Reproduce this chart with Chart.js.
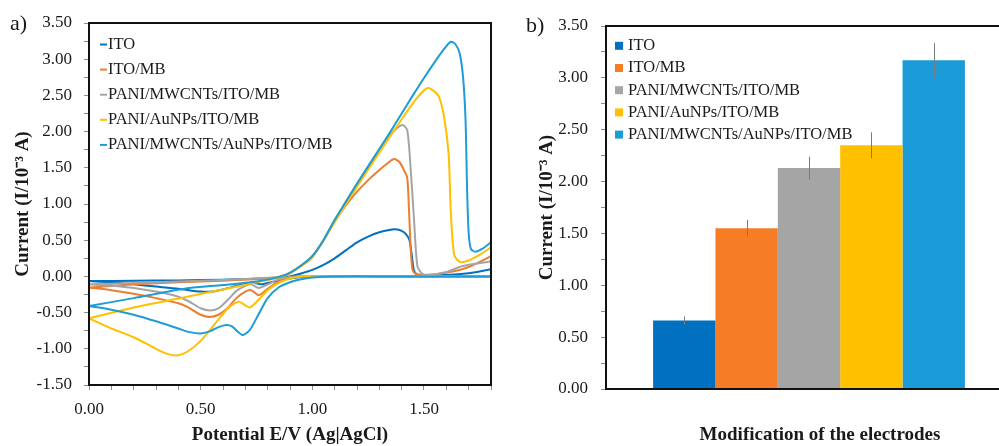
<!DOCTYPE html>
<html>
<head>
<meta charset="utf-8">
<title>CV curves and peak currents</title>
<script src="https://cdn.jsdelivr.net/npm/chart.js@4.4.1/dist/chart.umd.min.js"></script>
<style>
  html, body { margin: 0; padding: 0; background: #fff; overflow: hidden; }
  #page { position: relative; width: 999px; height: 446px; overflow: hidden; }
  #panelA { position: absolute; left: 0; top: 0; }
  #panelB { position: absolute; left: 500px; top: 0; }
  .tag { position: absolute; font: 22px "Liberation Serif", serif; line-height: 22px; color: #1a1a1a; }
</style>
</head>
<body>
<div id="page">
  <canvas id="panelA" width="500" height="446"></canvas>
  <canvas id="panelB" width="520" height="446"></canvas>
  <div class="tag" style="left:10px;top:12px">a)</div>
  <div class="tag" style="left:526px;top:14px">b)</div>
</div>
<script>
// ---------------------------------------------------------------------------
// Data
// ---------------------------------------------------------------------------

const electrodes = ["ITO", "ITO/MB", "PANI/MWCNTs/ITO/MB", "PANI/AuNPs/ITO/MB", "PANI/MWCNTs/AuNPs/ITO/MB"];
const lineColors = ["#0070C0", "#ED7D31", "#A5A5A5", "#FFC000", "#1E9CD7"];
const barColors  = ["#0070C0", "#F67D26", "#A5A5A5", "#FFC000", "#1B9CD8"];

// panel a: voltammograms, forward scan then reverse scan (E in V, I in 10^-3 A)
const itoE = [0, 0.2, 0.4, 0.6, 0.8, 0.9, 0.95, 1.0, 1.05, 1.1, 1.15, 1.2, 1.25, 1.3, 1.35, 1.37, 1.4, 1.42, 1.435, 1.445, 1.455, 1.47, 1.5, 1.6, 1.7, 1.8, 1.9,
              1.9, 1.85, 1.6, 1.3, 1.0, 0.95, 0.9, 0.85, 0.8, 0.77, 0.74, 0.7, 0.65, 0.6, 0.55, 0.5, 0.4, 0.3, 0.2, 0.1, 0];
const itoI = [-0.065, -0.06, -0.055, -0.045, -0.025, 0.0, 0.04, 0.09, 0.16, 0.25, 0.36, 0.47, 0.55, 0.61, 0.645, 0.65, 0.63, 0.58, 0.5, 0.3, 0.08, 0.025, 0.02, 0.02, 0.045, 0.10, 0.18,
              0, 0, 0, 0, 0, -0.01, -0.03, -0.06, -0.09, -0.11, -0.09, -0.1, -0.14, -0.18, -0.21, -0.21, -0.17, -0.14, -0.11, -0.08, -0.065];

const itoMbE = [0, 0.2, 0.4, 0.6, 0.8, 0.85, 0.9, 0.95, 1.0, 1.05, 1.1, 1.15, 1.2, 1.25, 1.3, 1.34, 1.366, 1.39, 1.41, 1.425, 1.433, 1.441, 1.448, 1.46, 1.5, 1.6, 1.7, 1.8, 1.9,
                1.9, 1.85, 1.6, 1.3, 1.0, 0.95, 0.9, 0.85, 0.8, 0.76, 0.726, 0.7, 0.66, 0.62, 0.58, 0.54, 0.5, 0.44, 0.4, 0.3, 0.2, 0.1, 0];
const itoMbI = [-0.155, -0.11, -0.08, -0.06, -0.03, -0.01, 0.05, 0.15, 0.28, 0.5, 0.76, 0.98, 1.17, 1.33, 1.47, 1.57, 1.62, 1.58, 1.47, 1.36, 0.9, 0.35, 0.1, 0.04, 0.02, 0.05, 0.13, 0.28, 0.45,
                0, 0, 0, 0, 0, 0, -0.01, -0.07, -0.17, -0.26, -0.19, -0.21, -0.3, -0.44, -0.53, -0.56, -0.53, -0.42, -0.37, -0.3, -0.24, -0.19, -0.155];

const mwcntE = [0, 0.2, 0.4, 0.6, 0.8, 0.85, 0.9, 0.95, 1.0, 1.05, 1.1, 1.15, 1.2, 1.25, 1.3, 1.35, 1.38, 1.405, 1.425, 1.44, 1.455, 1.47, 1.49, 1.52, 1.6, 1.67, 1.8, 1.9,
                1.9, 1.85, 1.6, 1.3, 1.0, 0.95, 0.9, 0.85, 0.8, 0.76, 0.726, 0.7, 0.66, 0.62, 0.58, 0.54, 0.5, 0.45, 0.4, 0.3, 0.2, 0.1, 0];
const mwcntI = [-0.11, -0.09, -0.07, -0.05, -0.02, -0.005, 0.05, 0.15, 0.28, 0.5, 0.78, 1.03, 1.28, 1.52, 1.75, 1.96, 2.05, 2.09, 2.02, 1.5, 0.8, 0.15, 0.04, 0.02, 0.06, 0.14, 0.21, 0.3,
                0, 0, 0, 0, 0, 0, -0.01, -0.04, -0.11, -0.16, -0.11, -0.13, -0.2, -0.33, -0.44, -0.47, -0.44, -0.35, -0.28, -0.21, -0.16, -0.13, -0.11];

const aunpE = [0, 0.2, 0.44, 0.6, 0.8, 0.85, 0.9, 0.95, 1.0, 1.1, 1.2, 1.3, 1.4, 1.45, 1.49, 1.515, 1.54, 1.567, 1.59, 1.61, 1.62, 1.635, 1.66, 1.7, 1.75, 1.8, 1.9,
               1.9, 1.85, 1.6, 1.3, 1.0, 0.95, 0.9, 0.85, 0.8, 0.76, 0.72, 0.69, 0.67, 0.63, 0.6, 0.55, 0.5, 0.45, 0.4, 0.35, 0.3, 0.2, 0.1, 0.05, 0];
const aunpI = [-0.58, -0.43, -0.28, -0.18, -0.05, -0.015, 0.04, 0.14, 0.26, 0.75, 1.24, 1.71, 2.17, 2.39, 2.54, 2.6, 2.57, 2.48, 2.2, 1.7, 0.9, 0.3, 0.2, 0.22, 0.3, 0.4, 0.6,
               0, 0, 0, 0, 0, 0, -0.03, -0.09, -0.19, -0.32, -0.43, -0.38, -0.35, -0.42, -0.52, -0.71, -0.89, -1.02, -1.09, -1.07, -1.0, -0.84, -0.72, -0.65, -0.58];

const hybridE = [0, 0.2, 0.44, 0.6, 0.75, 0.85, 0.9, 0.95, 1.0, 1.05, 1.1, 1.15, 1.2, 1.25, 1.3, 1.35, 1.4, 1.45, 1.5, 1.55, 1.58, 1.6, 1.62, 1.64, 1.66, 1.675, 1.686, 1.693, 1.7, 1.71, 1.73, 1.76, 1.8, 1.9,
                 1.9, 1.85, 1.6, 1.3, 1.1, 1.05, 1.0, 0.95, 0.9, 0.85, 0.8, 0.76, 0.72, 0.69, 0.665, 0.64, 0.615, 0.58, 0.54, 0.5, 0.45, 0.4, 0.3, 0.2, 0.1, 0];
const hybridI = [-0.41, -0.3, -0.165, -0.12, -0.07, -0.01, 0.05, 0.15, 0.28, 0.5, 0.78, 1.03, 1.28, 1.52, 1.76, 2.0, 2.25, 2.5, 2.74, 2.97, 3.1, 3.18, 3.24, 3.21, 3.08, 2.75, 2.16, 1.2, 0.6, 0.38, 0.34, 0.38, 0.47, 0.7,
                 0, 0, 0, 0, 0, -0.005, -0.015, -0.04, -0.08, -0.15, -0.3, -0.52, -0.74, -0.81, -0.76, -0.69, -0.67, -0.7, -0.76, -0.79, -0.77, -0.72, -0.62, -0.53, -0.46, -0.41];

// panel b: peak current per electrode (10^-3 A) with its error
const barValues = [0.66, 1.55, 2.13, 2.35, 3.17];
const barErrors = [0.04, 0.08, 0.11, 0.125, 0.165];

// ---------------------------------------------------------------------------
// Helpers and plugins
// ---------------------------------------------------------------------------

const SERIF = '"Liberation Serif", "Times New Roman", serif';
const INK = "#1a1a1a";
Chart.defaults.font.family = SERIF;
Chart.defaults.font.size = 17;
Chart.defaults.color = INK;

function toPoints(xs, ys) {
  return xs.map((x, i) => ({ x, y: ys[i] }));
}

function onHalf(v) {
  return Math.abs(v * 2 - Math.round(v * 2)) < 1e-6;
}

function halfLabel(v) {
  return onHalf(v) ? Number(v).toFixed(2) : "";
}

// black box around the plot area
const frame = {
  id: "frame",
  afterDraw(chart) {
    const { ctx, chartArea: a } = chart;
    ctx.save();
    ctx.strokeStyle = "#111";
    ctx.lineWidth = 2;
    ctx.strokeRect(a.left, a.top, a.right - a.left, a.bottom - a.top);
    ctx.restore();
  },
};

// legend drawn inside the plot area, top left
const insideLegend = {
  id: "insideLegend",
  afterDraw(chart, args, opts) {
    const { ctx, chartArea } = chart;
    ctx.save();
    ctx.font = `16.5px ${SERIF}`;
    ctx.textBaseline = "middle";
    chart.data.datasets.forEach((ds, i) => {
      const x = chartArea.left + opts.dx;
      const y = chartArea.top + opts.dy + i * opts.step;
      const color = ds.swatch;
      if (opts.marker === "line") {
        ctx.strokeStyle = color;
        ctx.lineWidth = 2;
        ctx.beginPath();
        ctx.moveTo(x, y);
        ctx.lineTo(x + 7, y);
        ctx.stroke();
        ctx.fillStyle = INK;
        ctx.fillText(ds.label, x + 8, y);
      } else {
        ctx.fillStyle = color;
        ctx.fillRect(x, y - 4, 8, 8);
        ctx.fillStyle = INK;
        ctx.fillText(ds.label, x + 13, y);
      }
    });
    ctx.restore();
  },
};

const errorBars = {
  id: "errorBars",
  afterDatasetsDraw(chart) {
    const { ctx } = chart;
    const y = chart.scales.y;
    ctx.save();
    ctx.strokeStyle = "#7a7a7a";
    ctx.lineWidth = 1;
    chart.data.datasets.forEach((ds, i) => {
      const bar = chart.getDatasetMeta(i).data[0];
      const x = Math.round(bar.x) + 0.5;
      ctx.beginPath();
      ctx.moveTo(x, y.getPixelForValue(barValues[i] + barErrors[i]));
      ctx.lineTo(x, y.getPixelForValue(barValues[i] - barErrors[i]));
      ctx.stroke();
    });
    ctx.restore();
  },
};

// category title under panel b (sits a little right of the bar group)
const bottomTitle = {
  id: "bottomTitle",
  afterDraw(chart, args, opts) {
    const { ctx, chartArea: a } = chart;
    ctx.save();
    ctx.font = `bold 19px ${SERIF}`;
    ctx.fillStyle = INK;
    ctx.textAlign = "center";
    ctx.textBaseline = "middle";
    ctx.fillText(opts.text, (a.left + a.right) / 2 + opts.shift, opts.y);
    ctx.restore();
  },
};

const tickGrid = { drawOnChartArea: false, drawTicks: true, tickLength: 5, color: "#8c8c8c" };
const yTitle = (pad) => ({
  display: true,
  text: "Current (I/10\u207B\u00B3 A)",
  font: { size: 19, weight: "bold" },
  padding: { top: pad, bottom: 0 },
});

// ---------------------------------------------------------------------------
// Panel a: cyclic voltammograms
// ---------------------------------------------------------------------------

const curves = [[itoE, itoI], [itoMbE, itoMbI], [mwcntE, mwcntI], [aunpE, aunpI], [hybridE, hybridI]];

new Chart(document.getElementById("panelA"), {
  type: "scatter",
  data: {
    datasets: electrodes.map((name, i) => ({
      label: name,
      data: toPoints(curves[i][0], curves[i][1]),
      showLine: true,
      borderColor: lineColors[i],
      swatch: lineColors[i],
      borderWidth: 2,
      pointRadius: 0,
      tension: 0.25,
      order: electrodes.length - i,
    })),
  },
  options: {
    responsive: false,
    animation: false,
    layout: { padding: { top: 23, right: 8, left: 0, bottom: 0 } },
    plugins: {
      legend: { display: false },
      tooltip: { enabled: false },
      insideLegend: { marker: "line", dx: 11, dy: 21.5, step: 25.1 },
    },
    scales: {
      x: {
        type: "linear", min: 0, max: 1.8,
        afterFit: (s) => { s.height = 61; },
        border: { display: false },
        grid: tickGrid,
        ticks: { stepSize: 0.1, autoSkip: false, maxRotation: 0, padding: 9, callback: halfLabel },
        title: { display: true, text: "Potential E/V (Ag|AgCl)", font: { size: 19, weight: "bold" }, padding: { top: 0, bottom: 0 } },
      },
      y: {
        min: -1.5, max: 3.5,
        afterFit: (s) => { s.width = 89; },
        border: { display: false },
        grid: tickGrid,
        ticks: { stepSize: 0.25, autoSkip: false, padding: 12, callback: halfLabel },
        title: yTitle(12),
      },
    },
  },
  plugins: [frame, insideLegend],
});

// ---------------------------------------------------------------------------
// Panel b: peak currents
// ---------------------------------------------------------------------------

new Chart(document.getElementById("panelB"), {
  type: "bar",
  data: {
    labels: [""],
    datasets: electrodes.map((name, i) => ({
      label: name,
      data: [barValues[i]],
      backgroundColor: barColors[i],
      swatch: barColors[i],
      categoryPercentage: 0.768,
      barPercentage: 1.0,
    })),
  },
  options: {
    responsive: false,
    animation: false,
    layout: { padding: { top: 26, right: 8, left: 0, bottom: 0 } },
    plugins: {
      legend: { display: false },
      tooltip: { enabled: false },
      insideLegend: { marker: "box", dx: 9, dy: 19.8, step: 22.2 },
      bottomTitle: { text: "Modification of the electrodes", y: 435, shift: 11 },
    },
    scales: {
      x: {
        afterFit: (s) => { s.height = 57; },
        border: { display: false },
        grid: { display: false },
        ticks: { display: false },
      },
      y: {
        min: 0, max: 3.5,
        afterFit: (s) => { s.width = 106; },
        border: { display: false },
        grid: tickGrid,
        ticks: { stepSize: 0.25, autoSkip: false, padding: 13, callback: halfLabel },
        title: yTitle(36),
      },
    },
  },
  plugins: [errorBars, frame, insideLegend, bottomTitle],
});
</script>
</body>
</html>
